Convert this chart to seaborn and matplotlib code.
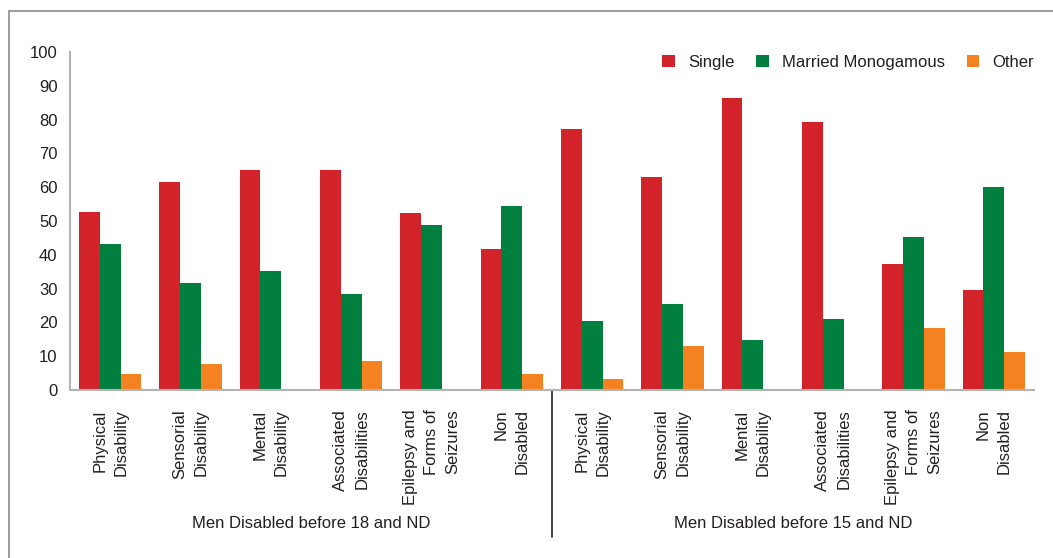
import matplotlib
matplotlib.use("Agg")
import matplotlib.pyplot as plt
from matplotlib.lines import Line2D
import seaborn as sns
import pandas as pd

# data (%)
disabilities = [
    "Physical\nDisability",
    "Sensorial\nDisability",
    "Mental\nDisability",
    "Associated\nDisabilities",
    "Epilepsy and\nForms of\nSeizures",
    "Non\nDisabled",
]
groups = ["Men Disabled before 18 and ND", "Men Disabled before 15 and ND"]
statuses = ["Single", "Married Monogamous", "Other"]

single_18 = [52.7, 61.6, 65.1, 65.1, 52.4, 41.8]
married_18 = [43.3, 31.7, 35.3, 28.5, 48.9, 54.5]
other_18 = [4.8, 7.8, 0.0, 8.7, 0.0, 4.8]

single_15 = [77.3, 63.1, 86.5, 79.4, 37.3, 29.6]
married_15 = [20.3, 25.5, 14.9, 21.0, 45.3, 60.2]
other_15 = [3.4, 13.0, 0.0, 0.0, 18.4, 11.3]

colors = ["#d2232a", "#007f3f", "#f58220"]

rows = []
series = {
    groups[0]: [single_18, married_18, other_18],
    groups[1]: [single_15, married_15, other_15],
}
order = []
for g in groups:
    for i, d in enumerate(disabilities):
        key = g + "|" + str(i)
        order.append(key)
        for s, vals in zip(statuses, series[g]):
            rows.append({"cat": key, "status": s, "value": vals[i]})
df = pd.DataFrame(rows)

sns.set_style("white")
plt.rcParams["font.family"] = ["Liberation Sans", "DejaVu Sans"]
fs = 12
text_color = "#231f20"

fig = plt.figure(figsize=(10.53, 5.58), dpi=100)
ax = fig.add_axes([70 / 1053, 168 / 558, 964 / 1053, 338 / 558])

sns.barplot(
    data=df, x="cat", y="value", hue="status", order=order,
    hue_order=statuses, palette=colors, width=0.78, saturation=1,
    ax=ax, errorbar=None, linewidth=0,
)

ax.set_xlim(-0.5, 11.5)
ax.set_ylim(0, 100)
ax.set_yticks(range(0, 101, 10))
ax.set_xlabel("")
ax.set_ylabel("")

ax.set_xticks(range(12))
ax.set_xticklabels(disabilities * 2, rotation=90, ha="center", va="top",
                   multialignment="right", color=text_color, fontsize=fs,
                   linespacing=1.5)
ax.set_xticks([k - 0.5 for k in range(13)], minor=True)
ax.tick_params(axis="x", which="major", length=0, pad=14)
ax.tick_params(axis="x", which="minor", length=5, width=1.2, color="#231f20",
               direction="out")
ax.tick_params(axis="y", length=6, width=1, color="#555555", direction="out",
               labelcolor=text_color, labelsize=fs, pad=3)

for side in ["top", "right"]:
    ax.spines[side].set_visible(False)
for side in ["left", "bottom"]:
    ax.spines[side].set_color("#b3b3b3")
    ax.spines[side].set_linewidth(1.5)

# divider between the two groups
trans = ax.get_xaxis_transform()
ax.add_line(Line2D([5.5, 5.5], [0, -147 / 338], transform=trans,
                   color="#231f20", lw=1.2, clip_on=False))
for x, g in zip([2.5, 8.5], groups):
    ax.text(x, -133 / 338, g, transform=trans, ha="center", va="center",
            fontsize=fs, color=text_color)

# legend
handles, labels = ax.get_legend_handles_labels()
ax.legend(handles, labels, ncol=3, loc="center right",
          bbox_to_anchor=(1.0, 0.97), frameon=False, fontsize=fs,
          handlelength=0.75, handleheight=0.75, handletextpad=0.8,
          columnspacing=1.3, borderaxespad=0, borderpad=0,
          labelcolor=text_color)

# outer frame (left and top only)
fig.add_artist(Line2D([9 / 1053, 9 / 1053], [0, 1 - 11 / 558],
                      transform=fig.transFigure, color="#8c8c8c", lw=1.2))
fig.add_artist(Line2D([9 / 1053, 1], [1 - 11 / 558, 1 - 11 / 558],
                      transform=fig.transFigure, color="#8c8c8c", lw=1.2))

fig.savefig("out.png", dpi=100, facecolor="white")
